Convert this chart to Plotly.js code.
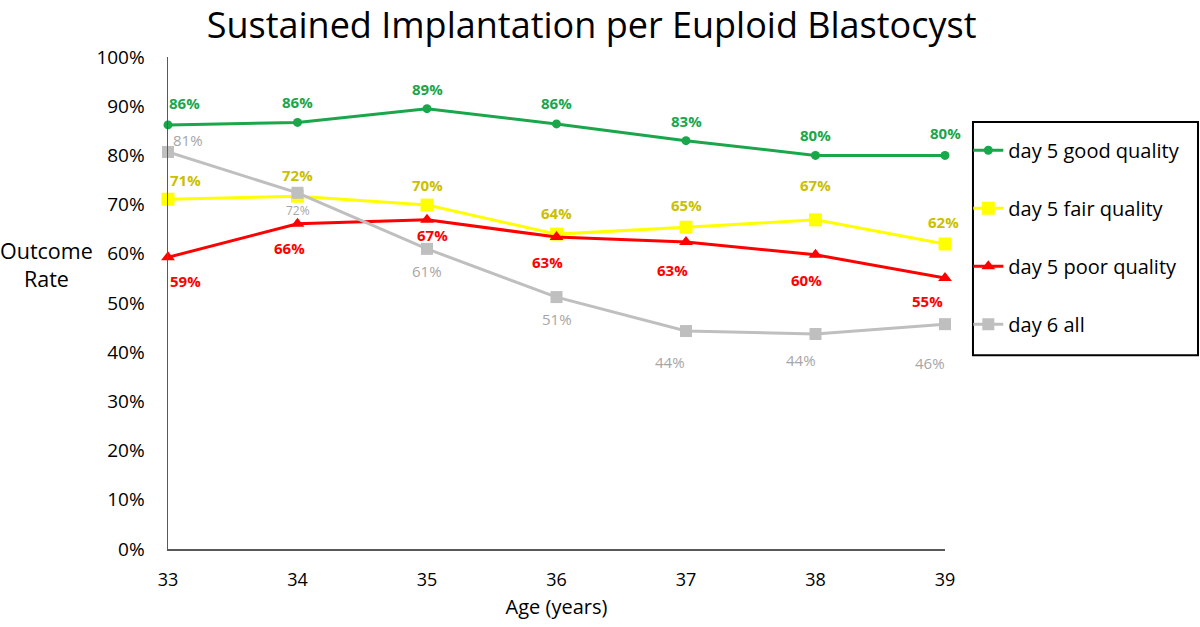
<!DOCTYPE html>
<html>
<head>
<meta charset="utf-8">
<script src="https://cdn.plot.ly/plotly-3.0.1.min.js"></script>
<style>html,body{margin:0;padding:0;background:#fff;}#chart{width:1200px;height:627px;}</style>
</head>
<body>
<div id="chart"></div>
<script>
// ---- data ----
const ages = [33, 34, 35, 36, 37, 38, 39];
const seriesNames = ["day 5 good quality", "day 5 fair quality", "day 5 poor quality", "day 6 all"];
const good = [86.2, 86.7, 89.5, 86.4, 83.0, 80.0, 80.0];
const fair = [71.1, 71.7, 69.9, 64.0, 65.4, 66.9, 62.0];
const poor = [59.3, 66.1, 66.9, 63.4, 62.4, 59.8, 55.1];
const day6 = [80.7, 72.4, 61.0, 51.2, 44.3, 43.7, 45.7];
const goodLabels = ["86%", "86%", "89%", "86%", "83%", "80%", "80%"];
const fairLabels = ["71%", "72%", "70%", "64%", "65%", "67%", "62%"];
const poorLabels = ["59%", "66%", "67%", "63%", "63%", "60%", "55%"];
const day6Labels = ["81%", "72%", "61%", "51%", "44%", "44%", "46%"];
const yTicks = [0, 10, 20, 30, 40, 50, 60, 70, 80, 90, 100];

// ---- styling ----
const FONT = "Open Sans, Noto Sans, sans-serif";
const styles = [
  {vals: good, labels: goodLabels, color: "#1aa64a", lcolor: "#1aa64a", symbol: "circle", size: 9, bold: true, fs: 15,
   dx: [16, 0, 0, 0, 0, 0, 0], dy: [22, 20, 20, 21, 20, 20, 22]},
  {vals: fair, labels: fairLabels, color: "#ffff00", lcolor: "#c9c000", symbol: "square", size: 13, bold: true, fs: 15,
   dx: [17, 0, 0, 0, 0, 0, -2], dy: [19, 21, 20, 21, 22, 35, 22]},
  {vals: poor, labels: poorLabels, color: "#ff0000", lcolor: "#ff0000", symbol: "triangle-up", size: 12, bold: true, fs: 15,
   dx: [17, -8, 5, -9, -14, -9, -18], dy: [-24, -24, -15, -25, -28, -25, -23]},
  {vals: day6, labels: day6Labels, color: "#bfbfbf", lcolor: "#a6a6a6", symbol: "square", size: 12, bold: false, fs: 15,
   dx: [20, 0, 0, 0, -16, -15, -15], dy: [12, -18, -22, -22, -31, -26, -39]}
];

const traces = styles.map((s, i) => ({
  x: ages, y: s.vals, name: seriesNames[i], type: "scatter", mode: "lines+markers",
  line: {color: s.color, width: 3},
  marker: {color: s.color, symbol: s.symbol, size: s.size},
  legendgroup: "g" + i, cliponaxis: false, hoverinfo: "skip"
}));

const annotations = [];
styles.forEach(s => {
  ages.forEach((a, j) => {
    annotations.push({
      x: a, y: s.vals[j], xref: "x", yref: "y", showarrow: false,
      text: s.bold ? "<b>" + s.labels[j] + "</b>" : s.labels[j],
      xshift: s.dx[j], yshift: s.dy[j],
      font: {family: FONT, size: (s === styles[3] && j === 1) ? 12 : s.fs, color: s.lcolor}
    });
  });
});
annotations.push({
  xref: "paper", yref: "paper", x: -0.157, y: 0.578, xanchor: "center", yanchor: "middle",
  showarrow: false, text: "Outcome<br>Rate", align: "center",
  font: {family: FONT, size: 21.5, color: "#000"}
});

const layout = {
  width: 1200, height: 627,
  margin: {l: 168, r: 255, t: 57, b: 78, autoexpand: false},
  paper_bgcolor: "#fff", plot_bgcolor: "#fff",
  font: {family: FONT, color: "#000"},
  title: {text: "Sustained Implantation per Euploid Blastocyst", x: 0.493, xanchor: "center", y: 0.96, yanchor: "middle",
          font: {family: FONT, size: 36, color: "#000"}},
  xaxis: {range: [33, 39], tickvals: ages, ticktext: ages.map(String), showgrid: false, zeroline: false,
          showline: true, linecolor: "#595959", linewidth: 1.5, ticks: "", ticklabelstandoff: 14,
          tickfont: {family: FONT, size: 18, color: "#000"},
          title: {text: "Age (years)", font: {family: FONT, size: 20, color: "#000"}, standoff: 10}},
  yaxis: {range: [0, 100], tickvals: yTicks, ticktext: yTicks.map(v => v + "%"), showgrid: false, zeroline: false,
          showline: true, linecolor: "#595959", linewidth: 1.5, ticks: "", ticklabelstandoff: 18,
          tickfont: {family: FONT, size: 19, color: "#000"}},
  showlegend: true,
  legend: {x: 1.03, xanchor: "left", y: 0.85, yanchor: "top", borderwidth: 0,
           font: {family: FONT, size: 20, color: "#000"}, traceorder: "grouped", tracegroupgap: 29,
           bgcolor: "rgba(0,0,0,0)", itemwidth: 30},
  shapes: [{type: "rect", xref: "paper", yref: "paper", x0: 1.036, x1: 1.3256, y0: 0.394, y1: 0.868,
            line: {color: "#000", width: 2}, fillcolor: "rgba(0,0,0,0)", layer: "below"}],
  annotations: annotations
};

Plotly.newPlot("chart", traces, layout, {displayModeBar: false, staticPlot: true});
</script>
</body>
</html>
